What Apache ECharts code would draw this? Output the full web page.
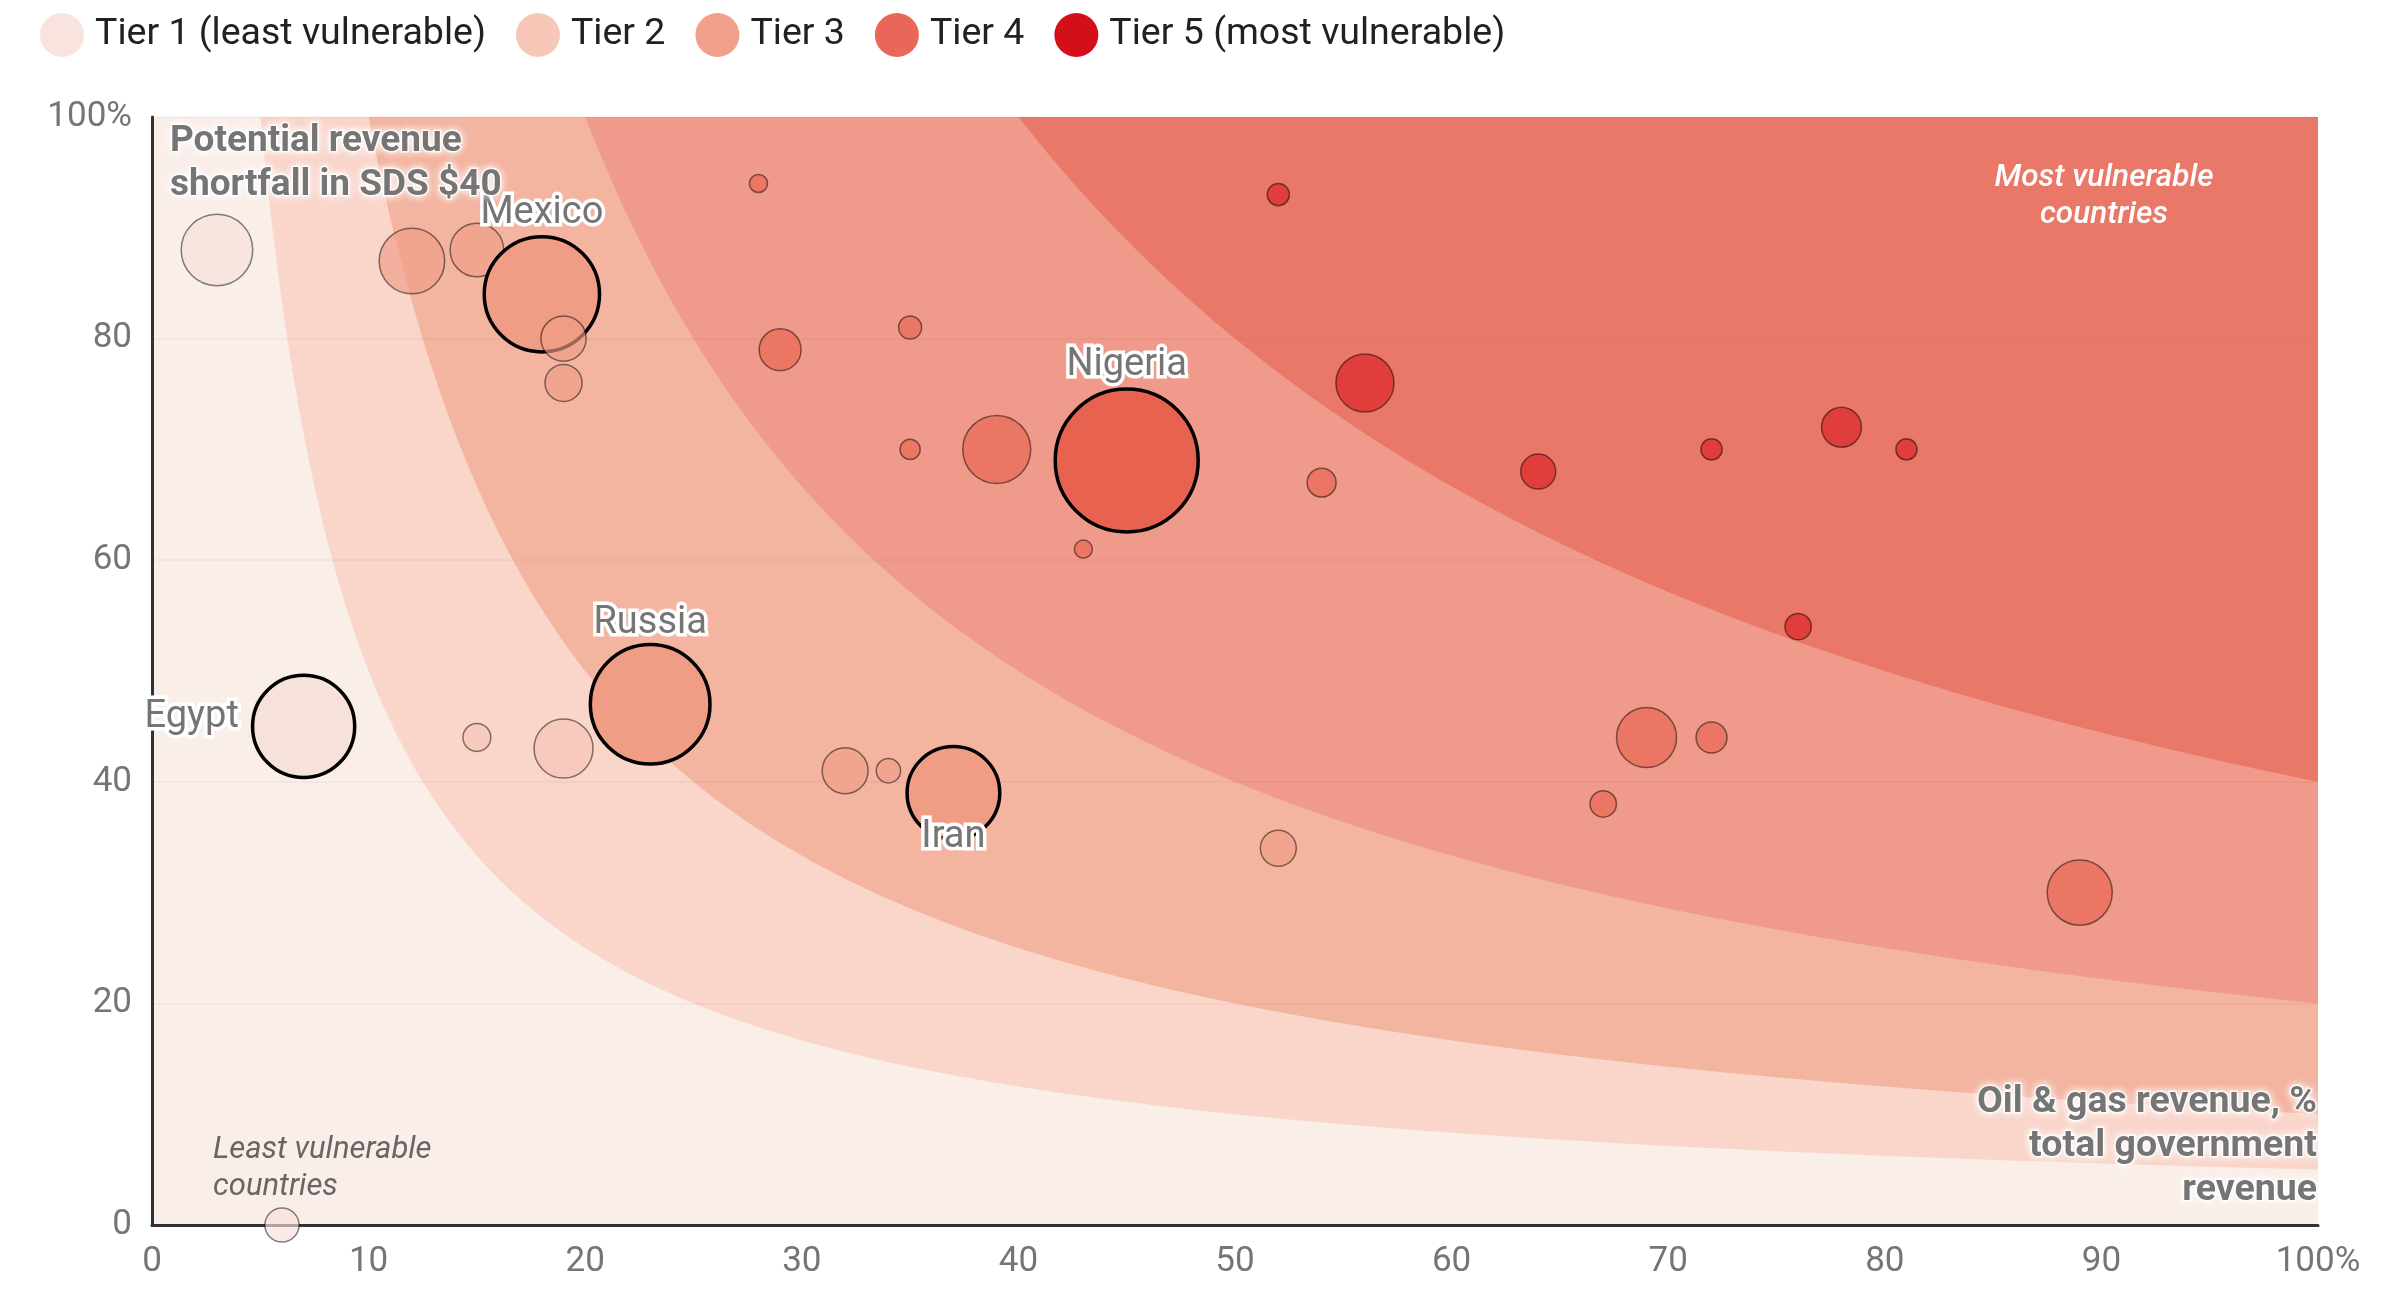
<!DOCTYPE html>
<html>
<head>
<meta charset="utf-8">
<script src="https://cdn.jsdelivr.net/npm/echarts@6/dist/echarts.min.js"></script>
<style>
  html, body { margin: 0; padding: 0; background: #fff; }
  #chart { width: 2387px; height: 1290px; }
</style>
</head>
<body>
<div id="chart"></div>
<script>
// tiers
const tierNames = ['Tier 1 (least vulnerable)', 'Tier 2', 'Tier 3', 'Tier 4', 'Tier 5 (most vulnerable)']
// tier limits: oil share x shortfall (in %·%)
const tierLimits = [500, 1000, 2000, 4000]

// countries (only the highlighted ones are named)
const countries = ['', 'Egypt', '', '', '', '', '', 'Mexico', '', '', 'Russia', '', '', 'Iran', '',
    '', '', '', '', '', 'Nigeria', '', '', '', '', '', '',
    '', '', '', '', '', '', '']
// oil & gas revenue, % of total government revenue
const oilShare = [3, 7, 6, 15, 19, 12, 15, 18, 19, 19, 23, 32, 34, 37, 52,
    28, 29, 35, 35, 39, 45, 43, 54, 69, 72, 67, 89,
    52, 56, 64, 72, 78, 81, 76]
// potential revenue shortfall in SDS $40, %
const shortfall = [88, 45, 0, 44, 43, 87, 88, 84, 80, 76, 47, 41, 41, 39, 34,
    94, 79, 81, 70, 70, 69, 61, 67, 44, 44, 38, 30,
    93, 76, 68, 70, 72, 70, 54]
// bubble size value
const bubbleSize = [25, 51, 5.7, 3.8, 17, 21, 14, 65, 10, 6.7, 70, 10.3, 2.9, 42, 6.3,
    1.6, 8.6, 2.6, 2.0, 22.6, 100, 1.6, 4.1, 17.6, 4.7, 3.4, 20.7,
    2.4, 16.5, 6.0, 2.2, 7.8, 2.2, 3.4]
const tierOf = [1, 1, 1, 2, 2, 3, 3, 3, 3, 3, 3, 3, 3, 3, 3,
    4, 4, 4, 4, 4, 4, 4, 4, 4, 4, 4, 4,
    5, 5, 5, 5, 5, 5, 5]

const xTickLabels = ['0', '10', '20', '30', '40', '50', '60', '70', '80', '90', '100%']
const yTickLabels = ['0', '20', '40', '60', '80', '100%']

// colours
const legendColors = ['#F9E3DE', '#F7C7B8', '#F2A08B', '#E8675A', '#D50F1A']
const bubbleColors = ['#F7E1DB', '#F6C5B5', '#F09D86', '#E7634F', '#D81E22']
const bandColors = ['#FAEEE9', '#F9D5CA', '#F3B4A0', '#F09A8B', '#EA7869']

const labelPos = {
    Egypt: { position: 'left', distance: 12, offset: [0, -9] },
    Mexico: { position: 'top', distance: 2 },
    Russia: { position: 'top', distance: 0 },
    Iran: { position: 'bottom', distance: -22 },
    Nigeria: { position: 'top', distance: 3 }
}

const grey = '#757575'
const font = 'Roboto'

const buildTier = t => {
    let arr = []
    for (let i = 0; i < countries.length; i++) {
        if (tierOf[i] !== t) continue
        let name = countries[i]
        let item = { value: [oilShare[i], shortfall[i], bubbleSize[i]], name: name }
        if (name) {
            item.itemStyle = { borderColor: '#000', borderWidth: 3.5, opacity: 1 }
            item.label = Object.assign({
                show: true,
                formatter: '{b}',
                fontFamily: font,
                fontSize: 38,
                color: grey,
                textBorderColor: '#fff',
                textBorderWidth: 7
            }, labelPos[name])
        }
        arr.push(item)
    }
    return arr
}

const bandsSeries = {
    type: 'custom',
    name: 'bands',
    z: -1,
    silent: true,
    data: bandColors.map((c, i) => [i, 0]),
    renderItem: (params, api) => {
        let i = params.dataIndex
        if (i === 0) {
            return {
                type: 'polygon',
                shape: { points: [api.coord([0, 0]), api.coord([100, 0]), api.coord([100, 100]), api.coord([0, 100])] },
                style: { fill: bandColors[0] }
            }
        }
        let k = tierLimits[i - 1]
        let x0 = k / 100
        let pts = []
        let n = 160
        for (let j = 0; j <= n; j++) {
            let x = x0 * Math.pow(100 / x0, j / n)
            pts.push(api.coord([x, k / x]))
        }
        pts.push(api.coord([100, 100]))
        return {
            type: 'polygon',
            shape: { points: pts },
            style: { fill: bandColors[i] }
        }
    }
}

const haloText = {
    fill: grey,
    stroke: 'rgba(255,255,255,0.85)',
    lineWidth: 3,
    textShadowColor: '#fff',
    textShadowBlur: 8
}

let Charts = echarts.init(document.getElementById('chart'))
Charts.setOption({
    animation: false,
    textStyle: { fontFamily: font },
    legend: {
        data: tierNames.map((n, i) => ({
            name: n,
            itemStyle: { color: legendColors[i], opacity: 1, borderWidth: 0 }
        })),
        icon: 'circle',
        left: 35,
        top: 8,
        itemWidth: 44,
        itemHeight: 44,
        itemGap: 30,
        selectedMode: false,
        textStyle: {
            fontFamily: font,
            fontSize: 37.5,
            color: '#212121',
            padding: [0, 0, 0, 6]
        }
    },
    grid: {
        left: 152,
        right: 69,
        top: 117,
        bottom: 65,
        containLabel: false
    },
    xAxis: {
        type: 'value',
        min: 0,
        max: 100,
        interval: 10,
        axisTick: { show: false },
        axisLine: { show: true, lineStyle: { color: '#333', width: 3 } },
        splitLine: { show: false },
        axisLabel: {
            fontFamily: font,
            fontSize: 35,
            color: grey,
            margin: 20,
            formatter: v => xTickLabels[Math.round(v / 10)]
        }
    },
    yAxis: {
        type: 'value',
        min: 0,
        max: 100,
        interval: 20,
        axisTick: { show: false },
        axisLine: { show: true, lineStyle: { color: '#333', width: 3 } },
        splitLine: {
            show: true,
            lineStyle: { color: 'rgba(150,100,90,0.06)', width: 2 }
        },
        axisLabel: {
            fontFamily: font,
            fontSize: 35,
            color: grey,
            margin: 20,
            formatter: v => yTickLabels[Math.round(v / 20)]
        }
    },
    graphic: [
        {
            type: 'text', x: 170, y: 120, z: 100,
            style: Object.assign({
                text: 'Potential revenue\nshortfall in SDS $40',
                font: 'bold 37px Roboto',
                lineHeight: 44
            }, haloText)
        },
        {
            type: 'text', x: 2317, y: 1081, z: 100,
            style: Object.assign({
                text: 'Oil & gas revenue, %\ntotal government\nrevenue',
                font: 'bold 37.5px Roboto',
                lineHeight: 44,
                align: 'right'
            }, haloText)
        },
        {
            type: 'text', x: 213, y: 1132, z: 100,
            style: {
                text: 'Least vulnerable\ncountries',
                font: 'italic 31px Roboto',
                lineHeight: 37,
                fill: '#666'
            }
        },
        {
            type: 'text', x: 2104, y: 160, z: 100,
            style: {
                text: 'Most vulnerable\ncountries',
                font: 'italic 500 31.5px Roboto',
                lineHeight: 37,
                align: 'center',
                fill: '#fff'
            }
        }
    ],
    series: [bandsSeries].concat(tierNames.map((n, t) => ({
        name: n,
        type: 'scatter',
        clip: false,
        data: buildTier(t + 1),
        symbolSize: val => 14.3 * Math.sqrt(val[2]),
        itemStyle: {
            color: bubbleColors[t],
            opacity: 0.65,
            borderColor: 'rgba(0,0,0,0.75)',
            borderWidth: 1.5
        },
        emphasis: { disabled: true }
    })))
})
</script>
</body>
</html>
